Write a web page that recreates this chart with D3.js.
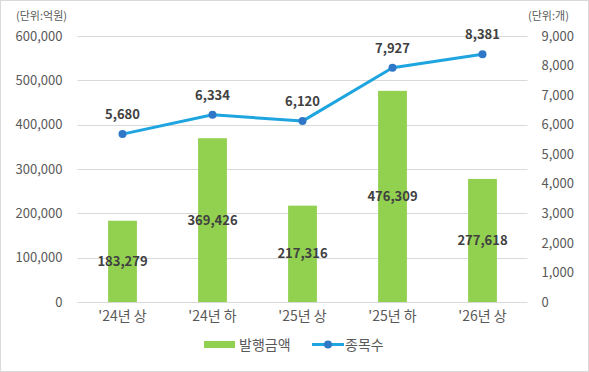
<!DOCTYPE html>
<html>
<head>
<meta charset="utf-8">
<script src="https://cdn.jsdelivr.net/npm/d3@7"></script>
<style>
  body { margin: 0; background: #fff; }
  text { font-family: "Noto Sans CJK KR", "Noto Sans", sans-serif; }
</style>
</head>
<body>
<svg id="chart"></svg>
<script>
// 데이터
const categories = ["'24년 상", "'24년 하", "'25년 상", "'25년 하", "'26년 상"];
const amounts = [183279, 369426, 217316, 476309, 277618];   // 발행금액 (억원)
const counts = [5680, 6334, 6120, 7927, 8381];               // 종목수 (개)
const leftTicks = [0, 100000, 200000, 300000, 400000, 500000, 600000];
const rightTicks = [0, 1000, 2000, 3000, 4000, 5000, 6000, 7000, 8000, 9000];

const width = 589, height = 372;
const plot = { left: 77.5, right: 527.5, top: 36, bottom: 302 };

const svg = d3.select('#chart')
    .attr('width', width)
    .attr('height', height);

// 테두리
svg.append('rect')
    .attr('x', 0.5).attr('y', 0.5)
    .attr('width', width - 1).attr('height', height - 1)
    .attr('fill', '#fff')
    .attr('stroke', '#d9d9d9');

// 스케일
const x = d3.scaleBand()
    .domain(categories)
    .range([plot.left, plot.right])
    .paddingInner(0.68)
    .paddingOuter(0.34);

const yLeft = d3.scaleLinear().domain([0, 600000]).range([plot.bottom, plot.top]);
const yRight = d3.scaleLinear().domain([0, 9000]).range([plot.bottom, plot.top]);
const fmt = d3.format(',');

// 격자선
svg.append('g')
    .selectAll('line')
    .data(leftTicks)
    .join('line')
    .attr('x1', plot.left).attr('x2', plot.right)
    .attr('y1', d => Math.round(yLeft(d)) + 0.5)
    .attr('y2', d => Math.round(yLeft(d)) + 0.5)
    .attr('stroke', '#d9d9d9')
    .attr('stroke-width', 1);

// 왼쪽 축
const axisLeft = svg.append('g')
    .attr('transform', `translate(${plot.left - 15},0)`)
    .call(d3.axisLeft(yLeft).tickValues(leftTicks).tickFormat(fmt).tickSize(0).tickPadding(0));
axisLeft.select('.domain').remove();
axisLeft.selectAll('text')
    .attr('fill', '#595959')
    .style('font-size', '13px')
    .style('font-family', '"Noto Sans CJK KR", sans-serif');

// 오른쪽 축
const axisRight = svg.append('g')
    .attr('transform', `translate(${plot.right + 14},0)`)
    .call(d3.axisRight(yRight).tickValues(rightTicks).tickFormat(fmt).tickSize(0).tickPadding(0));
axisRight.select('.domain').remove();
axisRight.selectAll('text')
    .attr('fill', '#595959')
    .style('font-size', '13px')
    .style('font-family', '"Noto Sans CJK KR", sans-serif');

// x 축 라벨
const axisBottom = svg.append('g')
    .attr('transform', `translate(0,${plot.bottom + 9})`)
    .call(d3.axisBottom(x).tickSize(0).tickPadding(0));
axisBottom.select('.domain').remove();
axisBottom.selectAll('text')
    .attr('fill', '#595959')
    .style('font-size', '14px')
    .style('font-family', '"Noto Sans CJK KR", sans-serif');

// 단위
svg.append('text')
    .attr('x', 16).attr('y', 20)
    .attr('fill', '#595959')
    .style('font-size', '11px')
    .text('(단위:억원)');
svg.append('text')
    .attr('x', 528).attr('y', 20)
    .attr('fill', '#595959')
    .style('font-size', '11px')
    .text('(단위:개)');

// 막대
svg.append('g')
    .selectAll('rect')
    .data(amounts)
    .join('rect')
    .attr('x', (d, i) => x(categories[i]))
    .attr('width', x.bandwidth())
    .attr('y', d => yLeft(d))
    .attr('height', d => plot.bottom - yLeft(d))
    .attr('fill', '#92d050');

// 막대 라벨
svg.append('g')
    .selectAll('text')
    .data(amounts)
    .join('text')
    .attr('x', (d, i) => x(categories[i]) + x.bandwidth() / 2)
    .attr('y', d => (yLeft(d) + plot.bottom) / 2)
    .attr('dy', '0.35em')
    .attr('text-anchor', 'middle')
    .attr('fill', '#404040')
    .style('font-size', '13px')
    .style('font-weight', 'bold')
    .text(d => fmt(d));

// 선
const cx = (d, i) => x(categories[i]) + x.bandwidth() / 2;
const line = d3.line()
    .x(cx)
    .y(d => yRight(d));

svg.append('path')
    .datum(counts)
    .attr('d', line)
    .attr('fill', 'none')
    .attr('stroke', '#1ea5e0')
    .attr('stroke-width', 3)
    .attr('stroke-linejoin', 'round');

svg.append('g')
    .selectAll('circle')
    .data(counts)
    .join('circle')
    .attr('cx', cx)
    .attr('cy', d => yRight(d))
    .attr('r', 4)
    .attr('fill', '#2f78c8');

// 선 라벨
svg.append('g')
    .selectAll('text')
    .data(counts)
    .join('text')
    .attr('x', cx)
    .attr('y', d => yRight(d) - 15)
    .attr('text-anchor', 'middle')
    .attr('fill', '#404040')
    .style('font-size', '13px')
    .style('font-weight', 'bold')
    .text(d => fmt(d));

// 범례
const legend = svg.append('g');
legend.append('rect')
    .attr('x', 204).attr('y', 341)
    .attr('width', 31).attr('height', 7)
    .attr('fill', '#92d050');
legend.append('text')
    .attr('x', 239).attr('y', 350)
    .attr('fill', '#595959')
    .style('font-size', '14px')
    .text('발행금액');
legend.append('line')
    .attr('x1', 312).attr('x2', 344)
    .attr('y1', 344.5).attr('y2', 344.5)
    .attr('stroke', '#1ea5e0')
    .attr('stroke-width', 3);
legend.append('circle')
    .attr('cx', 328).attr('cy', 344.5)
    .attr('r', 4)
    .attr('fill', '#2f78c8');
legend.append('text')
    .attr('x', 345).attr('y', 350)
    .attr('fill', '#595959')
    .style('font-size', '14px')
    .text('종목수');
</script>
</body>
</html>
